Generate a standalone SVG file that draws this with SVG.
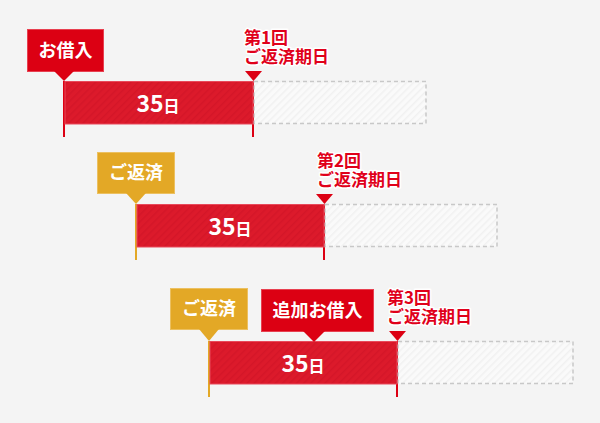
<svg xmlns="http://www.w3.org/2000/svg" width="600" height="423" viewBox="0 0 600 423">
<defs>
<pattern id="redStripe" width="5" height="5" patternUnits="userSpaceOnUse" patternTransform="rotate(45)">
<rect width="5" height="5" fill="#dc1a2b"/>
<rect width="1.5" height="5" fill="#d41628"/>
</pattern>
<pattern id="greyStripe" width="5" height="5" patternUnits="userSpaceOnUse" patternTransform="rotate(45)">
<rect width="5" height="5" fill="#fafafa"/>
<rect width="1.5" height="5" fill="#f1f1f1"/>
</pattern>
<style>
.bg{fill:#f4f4f4}
.bar{fill:url(#redStripe);stroke:#e8495a;stroke-width:1}
.future{fill:url(#greyStripe);stroke:#c8c8c8;stroke-width:1.5;stroke-dasharray:4 3}
.redbox{fill:#dc0013;stroke:#e84050;stroke-width:1}
.yelbox{fill:#e3a826;stroke:#ecc060;stroke-width:1}
.redline{stroke:#dc0013;stroke-width:2;fill:none}
.yelline{stroke:#e3a826;stroke-width:2;fill:none}
.redmark{fill:#dc0013}
.lbl{font-family:"Noto Sans CJK JP","Noto Sans",sans-serif;font-weight:bold;font-size:18px;fill:#ffffff;text-anchor:middle}
.days{font-family:"Noto Sans CJK JP","Noto Sans",sans-serif;font-weight:bold;fill:#ffffff;text-anchor:middle}
.due{font-family:"Noto Sans CJK JP","Noto Sans",sans-serif;font-weight:bold;font-size:17px;fill:#e0001a;stroke:#ffffff;stroke-width:3;stroke-linejoin:round;paint-order:stroke}
</style>
</defs>
<rect class="bg" x="0" y="0" width="600" height="423"/>

<g id="connectors">
<line class="redline" x1="64" y1="81" x2="64" y2="137"/>
<line class="redline" x1="253" y1="81" x2="253" y2="137"/>
<line class="yelline" x1="136" y1="204" x2="136" y2="260"/>
<line class="redline" x1="324" y1="204" x2="324" y2="260"/>
<line class="yelline" x1="209" y1="341" x2="209" y2="397"/>
<line class="redline" x1="397" y1="341" x2="397" y2="397"/>
</g>

<!-- Row 1 -->
<g id="period1">
<rect class="future" x="254" y="81.5" width="172" height="42"/>
<rect class="bar" x="65" y="81.5" width="188" height="42.5"/>
<text class="days" x="158" y="112"><tspan font-size="23">35</tspan><tspan font-size="16">日</tspan></text>
</g>
<g id="borrow1">
<rect class="redbox" x="27.5" y="29.5" width="76" height="42"/>
<polygon class="redmark" points="54,71 74,71 64,81"/>
<text class="lbl" x="65.5" y="57">お借入</text>
</g>
<g id="due1">
<polygon class="redmark" points="245,71 262,71 253.5,81"/>
<text class="due" x="244" y="44">第1回<tspan x="244" dy="19">ご返済期日</tspan></text>
</g>

<!-- Row 2 -->
<g id="period2">
<rect class="future" x="325" y="204.5" width="172" height="42"/>
<rect class="bar" x="137" y="204.5" width="187" height="42.5"/>
<text class="days" x="230" y="235"><tspan font-size="23">35</tspan><tspan font-size="16">日</tspan></text>
</g>
<g id="repay2">
<rect class="yelbox" x="97.5" y="152.5" width="77" height="41"/>
<polygon fill="#e3a826" points="126,193 146,193 136,204"/>
<text class="lbl" x="136" y="179">ご返済</text>
</g>
<g id="due2">
<polygon class="redmark" points="316,194 333,194 324.5,204"/>
<text class="due" x="317" y="167">第2回<tspan x="317" dy="19">ご返済期日</tspan></text>
</g>

<!-- Row 3 -->
<g id="period3">
<rect class="future" x="398" y="341.5" width="175" height="42"/>
<rect class="bar" x="210" y="341.5" width="187" height="42.5"/>
<text class="days" x="303" y="372"><tspan font-size="23">35</tspan><tspan font-size="16">日</tspan></text>
</g>
<g id="repay3">
<rect class="yelbox" x="170.5" y="288.5" width="77" height="41"/>
<polygon fill="#e3a826" points="199,329 219,329 209,341"/>
<text class="lbl" x="209" y="315">ご返済</text>
</g>
<g id="borrow3">
<rect class="redbox" x="261.5" y="289.5" width="112" height="42"/>
<polygon class="redmark" points="303,331 325,331 314,342"/>
<text class="lbl" x="317.5" y="317">追加お借入</text>
</g>
<g id="due3">
<polygon class="redmark" points="389,331 406,331 397.5,341"/>
<text class="due" x="387" y="304">第3回<tspan x="387" dy="19">ご返済期日</tspan></text>
</g>
</svg>
